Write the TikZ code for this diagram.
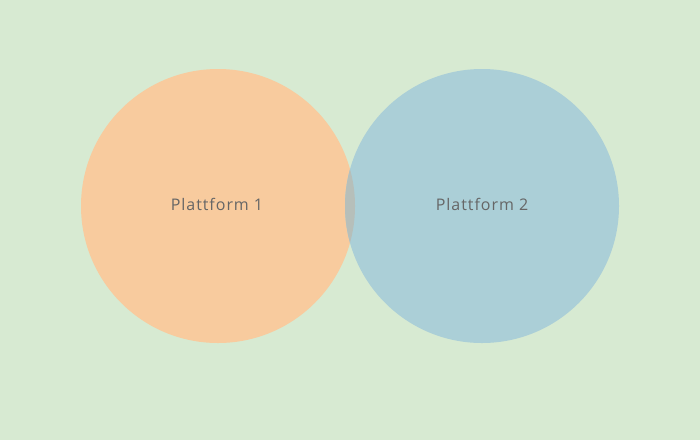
\documentclass[tikz,border=0pt]{standalone}
\usepackage{fontspec}
\setmainfont{Open Sans}[LetterSpace=6]
\definecolor{bg}{HTML}{D7EAD2}
\definecolor{orng}{HTML}{F8CB9E}
\definecolor{blu}{HTML}{ABCFD7}
\definecolor{ovl}{HTML}{B6BFBA}
\definecolor{txt}{HTML}{666666}
\begin{document}
\begin{tikzpicture}[x=1pt,y=-1pt,
  circ/.style={circle,minimum size=274pt,inner sep=0pt,draw=none},
  lbl/.style={text=txt,font=\fontsize{16}{18}\selectfont}]
\fill[bg] (0,0) rectangle (700,440);
\useasboundingbox (0,0) rectangle (700,440);
\node[circ,fill=orng] (c1) at (218,206) {};
\node[circ,fill=blu] (c2) at (482,206) {};
\begin{scope}
\clip (218,206) circle (137);
\fill[ovl] (482,206) circle (137);
\end{scope}
\node[lbl] (l1) at (217,204) {Plattform 1};
\node[lbl] (l2) at (482,204) {Plattform 2};
\end{tikzpicture}
\end{document}
